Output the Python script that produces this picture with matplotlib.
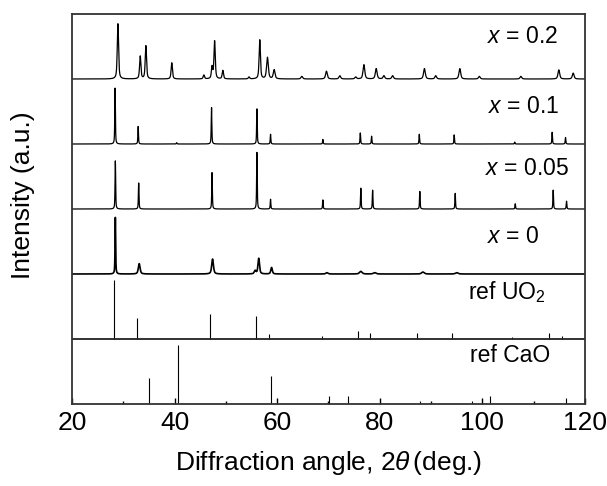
##  XRD patterns, stacked, with reference stick patterns  ##
import numpy as np
import matplotlib
matplotlib.use('Agg')
import matplotlib.pyplot as plt

plt.rcParams['font.family'] = ['Liberation Sans', 'DejaVu Sans']
plt.rcParams['mathtext.fontset'] = 'custom'
plt.rcParams['mathtext.rm'] = 'Liberation Sans'
plt.rcParams['mathtext.it'] = 'Liberation Sans:italic'

##  data: peak positions (2theta), heights (fraction of panel), widths (deg)  ##
pos_x02 = [28.95, 33.3, 34.4, 39.45, 45.7, 47.3, 47.8, 49.4, 54.5, 56.6, 58.1, 59.4, 64.8, 69.6,
           72.2, 75.3, 76.9, 79.3, 80.8, 82.5, 88.7, 90.9, 95.6, 99.4, 107.5, 114.9, 117.7]
hgt_x02 = [0.85, 0.35, 0.51, 0.25, 0.06, 0.18, 0.58, 0.13, 0.03, 0.60, 0.33, 0.14, 0.04, 0.12,
           0.05, 0.03, 0.22, 0.16, 0.05, 0.05, 0.16, 0.05, 0.16, 0.04, 0.04, 0.14, 0.09]
fwhm_x02 = [0.3] * 10 + [0.4] * 17

pos_x01 = [28.4, 32.9, 40.4, 47.2, 56.05, 58.7, 68.9, 76.2, 78.4, 87.7, 94.5, 106.3, 113.6, 116.2]
hgt_x01 = [0.86, 0.27, 0.02, 0.56, 0.54, 0.15, 0.07, 0.17, 0.12, 0.15, 0.14, 0.03, 0.18, 0.10]
fwhm_x01 = [0.14] * 14

pos_x005 = [28.45, 33.0, 47.3, 56.05, 58.7, 68.9, 76.3, 78.6, 87.8, 94.7, 106.4, 113.8, 116.4]
hgt_x005 = [0.74, 0.40, 0.56, 0.87, 0.15, 0.14, 0.32, 0.29, 0.27, 0.24, 0.08, 0.29, 0.12]
fwhm_x005 = [0.14] * 13

pos_x0 = [28.45, 33.1, 47.4, 55.7, 56.4, 58.9, 69.7, 76.3, 79.0, 88.4, 95.0]
hgt_x0 = [0.87, 0.16, 0.23, 0.05, 0.24, 0.10, 0.02, 0.04, 0.02, 0.03, 0.02]
fwhm_x0 = [0.14, 0.4, 0.4, 0.4, 0.35, 0.35, 0.5, 0.6, 0.6, 0.6, 0.6]

ref_uo2_pos = [28.26, 32.75, 46.98, 55.77, 58.39, 68.66, 75.70, 78.05, 87.3, 94.0, 105.8, 112.95, 115.5]
ref_uo2_hgt = [0.91, 0.32, 0.39, 0.35, 0.08, 0.05, 0.12, 0.09, 0.09, 0.09, 0.03, 0.10, 0.05]

ref_cao_pos = [35.03, 40.67, 58.72, 70.13, 73.76, 87.8, 98.05, 101.5, 116.3]
ref_cao_hgt = [0.40, 0.91, 0.43, 0.12, 0.12, 0.04, 0.04, 0.12, 0.09]

labels = ['$x$ = 0.2', '$x$ = 0.1', '$x$ = 0.05', '$x$ = 0']

##  peak profile (pseudo-Voigt)  ##
tt = np.linspace(20, 120, 8001)

def pattern(pos, hgt, fwhm):
    y = np.zeros_like(tt)
    for p, h, w in zip(pos, hgt, fwhm):
        d = (tt - p) / (w / 2)
        y += h * (0.6 / (1 + d ** 2) + 0.4 * np.exp(-np.log(2) * d ** 2))
    return y

##  figure  ##
fig = plt.figure(figsize=(6.07, 4.86), dpi=100)
ax = fig.add_axes([72 / 607, 1 - 404 / 486, 513 / 607, 390 / 486])

series = [(pos_x02, hgt_x02, fwhm_x02, 5, 0.9),
          (pos_x01, hgt_x01, fwhm_x01, 4, 0.9),
          (pos_x005, hgt_x005, fwhm_x005, 3, 0.9),
          (pos_x0, hgt_x0, fwhm_x0, 2, 1.2)]
for (p, h, w, off, lw) in series:
    ax.plot(tt, pattern(p, h, w) + off, color='black', lw=lw)

# reference sticks
ax.vlines(ref_uo2_pos, 1, 1 + np.array(ref_uo2_hgt), color='black', lw=0.8)
ax.vlines(ref_cao_pos, 0, np.array(ref_cao_hgt), color='black', lw=0.8)
ax.axhline(1, color='#222222', lw=1.3)

##  labels  ##
lab_x = [114.7, 114.9, 116.9, 111.0]
lab_y = [5.66, 4.58, 3.63, 2.57]
for t, lx, ly in zip(labels, lab_x, lab_y):
    ax.text(lx, ly, t, ha='right', va='center', fontsize=16.5)
ax.text(112.4, 1.72, 'ref UO$_2$', ha='right', va='center', fontsize=16.5)
ax.text(113.2, 0.74, 'ref CaO', ha='right', va='center', fontsize=16.5)

##  axes  ##
ax.set_xlim(20, 120)
ax.set_ylim(0, 6)
ax.set_yticks([])
ax.set_xticks(range(20, 121, 20))
ax.set_xticks(range(30, 120, 20), minor=True)
ax.tick_params(axis='x', which='major', direction='in', length=4, width=1, labelsize=19, pad=5)
ax.tick_params(axis='x', which='minor', direction='in', length=2.5, width=1)
for s in ax.spines.values():
    s.set_linewidth(1.3)
    s.set_color('#333333')

ax.set_xlabel(r'Diffraction angle, 2$\theta\,$(deg.)', fontsize=19, labelpad=10)
ax.set_ylabel('Intensity (a.u.)', fontsize=19)
ax.yaxis.set_label_coords(-0.072, 0.535)

plt.savefig('out.png', dpi=100)
